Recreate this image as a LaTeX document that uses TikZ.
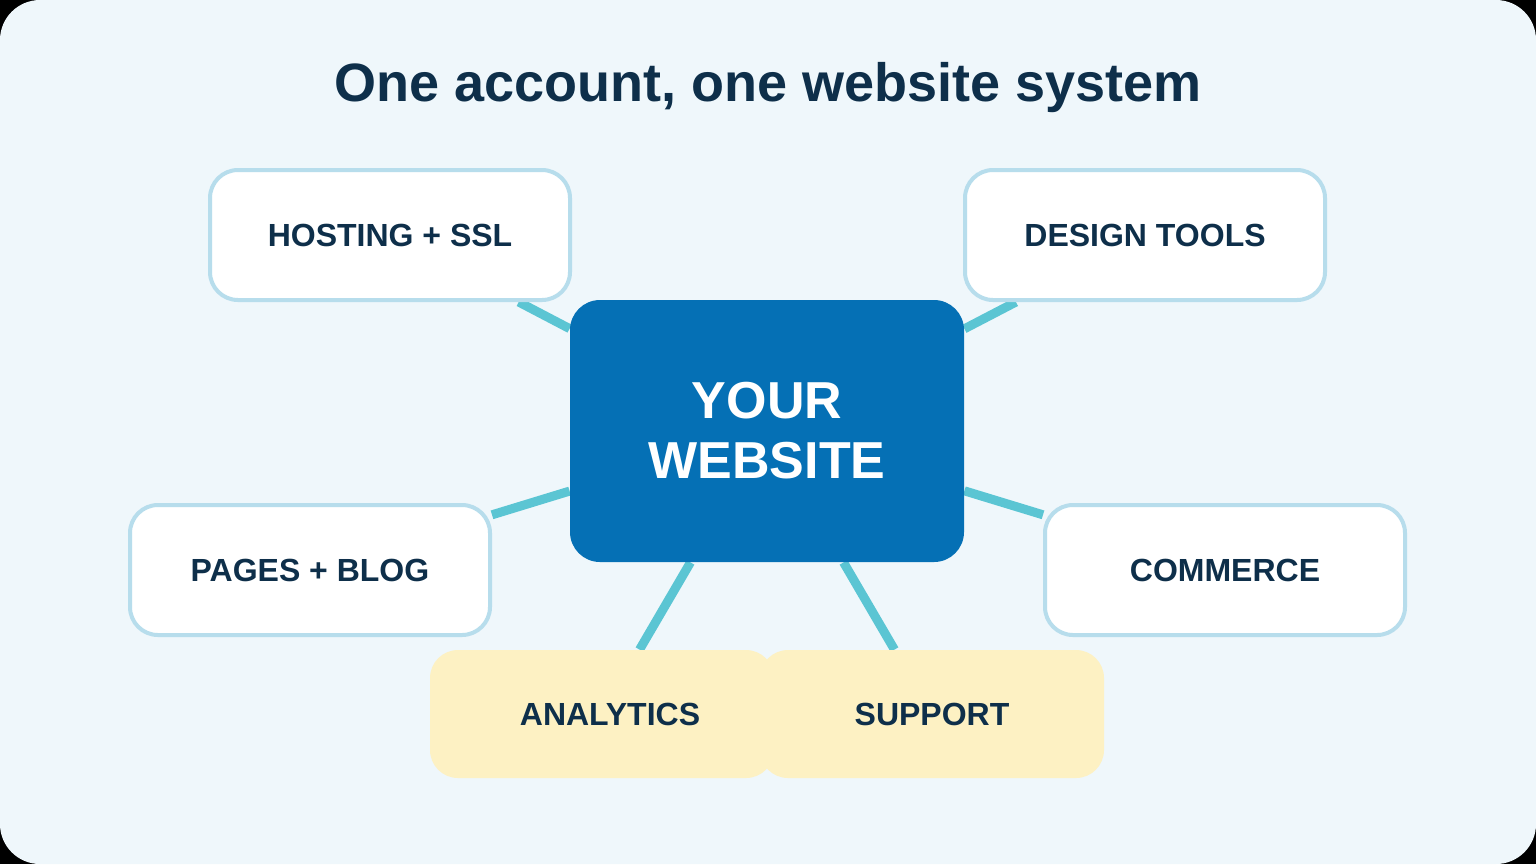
\documentclass[tikz,border=0pt]{standalone}
\usepackage{fontspec}
\setmainfont{Liberation Sans}
\usetikzlibrary{positioning,backgrounds}
\definecolor{bgblue}{HTML}{EFF7FB}
\definecolor{hubblue}{HTML}{0570B5}
\definecolor{edgeline}{HTML}{B7DDEC}
\definecolor{spoke}{HTML}{5BC5D3}
\definecolor{cream}{HTML}{FDF1C3}
\definecolor{ink}{HTML}{0E2F4A}
\begin{document}
\begin{tikzpicture}[x=0.5pt,y=-0.5pt]
\tikzstyle{feat}=[draw=edgeline, line width=2pt, fill=white, rounded corners=14pt, minimum width=180pt, minimum height=65pt, text=ink, font=\fontsize{16}{19}\selectfont\bfseries]
\tikzstyle{extra}=[fill=cream, rounded corners=14pt, minimum width=172pt, minimum height=64pt, text=ink, font=\fontsize{16}{19}\selectfont\bfseries]
\tikzstyle{link}=[draw=spoke, line width=4.5pt]

\node[text=ink, font=\fontsize{27}{32}\selectfont\bfseries] (title) at (768,88) {One account, one website system};

\node[fill=hubblue, rounded corners=15pt, minimum width=197pt, minimum height=131pt, align=center, text=white, font=\fontsize{26}{30}\selectfont\bfseries] (hub) at (767,431) {YOUR\\WEBSITE};

\node[feat] (host) at (390,235) {\raisebox{-3pt}{HOSTING + SSL}};
\node[feat] (design) at (1145,235) {\raisebox{-3pt}{DESIGN TOOLS}};
\node[feat] (pages) at (310,570) {\raisebox{-3pt}{PAGES + BLOG}};
\node[feat] (comm) at (1225,570) {\raisebox{-3pt}{COMMERCE}};
\node[extra] (anal) at (602,714) {\hspace{8pt}\raisebox{-3pt}{ANALYTICS}};
\node[extra] (supp) at (932,714) {\raisebox{-3pt}{SUPPORT}\hspace{12pt}};

\begin{scope}[on background layer]
\fill[black] (0,0) rectangle (1536,864);
\fill[bgblue, rounded corners=20pt] (0,0) rectangle (1536,864);
\draw[link] (hub) -- (host);
\draw[link] (hub) -- (design);
\draw[link] (hub) -- (pages);
\draw[link] (hub) -- (comm);
\draw[link] (hub) -- (anal);
\draw[link] (hub) -- (supp);
\end{scope}
\end{tikzpicture}
\end{document}
